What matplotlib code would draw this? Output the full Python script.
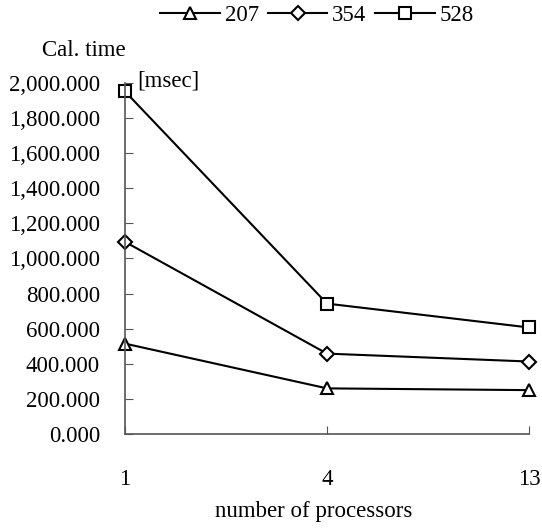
import matplotlib.pyplot as plt
from matplotlib.ticker import FuncFormatter

# data
processors = ["1", "4", "13"]
s207 = [515, 260, 250]
s354 = [1095, 458, 413]
s528 = [1952, 743, 607]

plt.rcParams['font.family'] = ['Liberation Serif', 'DejaVu Serif']

fig = plt.figure(figsize=(5.42, 5.32), dpi=100)
ax = fig.add_axes([0.2306, 0.1842, 0.7454, 0.6598])

x = range(len(processors))
style = dict(color='black', lw=1.5, markersize=9, markerfacecolor='white',
             markeredgecolor='black', markeredgewidth=1.5, clip_on=False)
ax.plot(x, s207, marker='^', label='207', **style)
ax.plot(x, s354, marker='D', label='354', **dict(style, markersize=7))
ax.plot(x, s528, marker='s', label='528', **style)

ax.set_xlim(0, 2)
ax.set_ylim(0, 2000)
ax.set_xticks(list(x))
ax.set_xticklabels(processors)
ax.set_yticks(range(0, 2001, 200))
ax.yaxis.set_major_formatter(FuncFormatter(lambda v, p: f"{v:,.3f}"))

for s in ['top', 'right']:
    ax.spines[s].set_visible(False)
for s in ['left', 'bottom']:
    ax.spines[s].set_color('#555555')
    ax.spines[s].set_linewidth(1.2)
ax.tick_params(axis='y', direction='in', length=6, color='#555555', pad=18, labelsize=16.5)
ax.tick_params(axis='x', direction='in', length=6, color='#555555', pad=25, labelsize=16.5)

fig.text(0.579, 0.038, "number of processors", fontsize=16.5, ha='center', va='center')
fig.text(0.155, 0.905, "Cal. time", fontsize=16.5, ha='center', va='center')
fig.text(0.253, 0.848, "[msec]", fontsize=16.5, ha='left', va='center')

fig.legend(loc='center', bbox_to_anchor=(0.585, 0.97), ncol=3, frameon=False,
           fontsize=16.5, handlelength=2.6, columnspacing=0.4, handletextpad=0.2,
           borderpad=0, borderaxespad=0)

fig.savefig("out.png", dpi=100)
